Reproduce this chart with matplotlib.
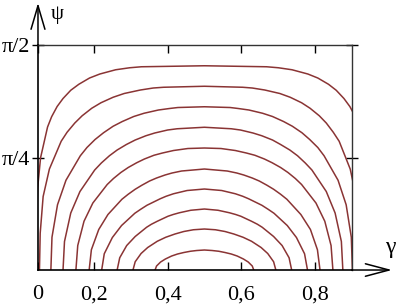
import numpy as np
import matplotlib
matplotlib.use("Agg")
import matplotlib.pyplot as plt

# ==================================================
# DATA  (gamma, psi in degrees)
# ==================================================

g1 = [0.044, 0.044, 0.047, 0.055, 0.074, 0.085, 0.100, 0.116, 0.137, 0.159, 0.188, 0.216, 0.259, 0.297, 0.329,
      0.500,
      0.669, 0.701, 0.738, 0.781, 0.808, 0.837, 0.858, 0.879, 0.895, 0.910, 0.921, 0.940, 0.948, 0.950, 0.951]
p1 = [0.0, 16.3, 32.7, 44.9, 57.2, 61.3, 65.4, 68.6, 71.9, 74.3, 76.8, 78.4, 80.1, 80.9, 81.3,
      81.7,
      81.3, 80.9, 80.1, 78.4, 76.8, 74.3, 71.9, 68.6, 65.4, 61.3, 57.2, 44.9, 32.7, 16.3, 0.0]

g2 = [0.052, 0.054, 0.062, 0.079, 0.111, 0.127, 0.148, 0.168, 0.194, 0.219, 0.252, 0.282, 0.326, 0.361, 0.389,
      0.500,
      0.604, 0.630, 0.664, 0.705, 0.733, 0.764, 0.787, 0.812, 0.831, 0.850, 0.866, 0.896, 0.912, 0.919, 0.921]
p2 = [0.0, 14.7, 29.4, 40.4, 51.5, 55.1, 58.8, 61.7, 64.7, 66.9, 69.1, 70.6, 72.0, 72.8, 73.1,
      73.5,
      73.1, 72.8, 72.0, 70.6, 69.1, 66.9, 64.7, 61.7, 58.8, 55.1, 51.5, 40.4, 29.4, 14.7, 0.0]

g3 = [0.083, 0.086, 0.101, 0.124, 0.163, 0.181, 0.203, 0.226, 0.252, 0.277, 0.308, 0.336, 0.375, 0.405, 0.428,
      0.500,
      0.570, 0.592, 0.621, 0.658, 0.685, 0.715, 0.739, 0.765, 0.786, 0.808, 0.825, 0.863, 0.885, 0.899, 0.902]
p3 = [0.0, 13.1, 26.1, 35.9, 45.7, 49.0, 52.2, 54.9, 57.5, 59.4, 61.4, 62.7, 64.0, 64.6, 65.0,
      65.3,
      65.0, 64.6, 64.0, 62.7, 61.4, 59.4, 57.5, 54.9, 52.2, 49.0, 45.7, 35.9, 26.1, 13.1, 0.0]

g4 = [0.116, 0.120, 0.137, 0.162, 0.202, 0.220, 0.242, 0.263, 0.288, 0.312, 0.341, 0.365, 0.400, 0.426,
      0.500,
      0.573, 0.598, 0.632, 0.656, 0.685, 0.707, 0.732, 0.753, 0.774, 0.792, 0.831, 0.855, 0.872, 0.876]
p4 = [0.0, 11.4, 22.8, 31.4, 40.0, 42.8, 45.7, 48.0, 50.2, 52.0, 53.7, 54.8, 56.0, 56.5,
      57.1,
      56.5, 56.0, 54.8, 53.7, 52.0, 50.2, 48.0, 45.7, 42.8, 40.0, 31.4, 22.8, 11.4, 0.0]

g5 = [0.151, 0.156, 0.173, 0.197, 0.236, 0.253, 0.273, 0.293, 0.316, 0.337, 0.363, 0.386, 0.416, 0.455,
      0.500,
      0.545, 0.584, 0.614, 0.637, 0.663, 0.684, 0.707, 0.727, 0.747, 0.764, 0.803, 0.827, 0.844, 0.849]
p5 = [0.0, 9.8, 19.5, 26.8, 34.2, 36.6, 39.0, 41.0, 42.9, 44.4, 45.9, 46.8, 47.8, 48.6,
      48.8,
      48.6, 47.8, 46.8, 45.9, 44.4, 42.9, 41.0, 39.0, 36.6, 34.2, 26.8, 19.5, 9.8, 0.0]

g6 = [0.187, 0.193, 0.213, 0.238, 0.276, 0.293, 0.312, 0.330, 0.351, 0.370, 0.393, 0.412, 0.438,
      0.500,
      0.562, 0.588, 0.607, 0.630, 0.649, 0.670, 0.688, 0.707, 0.724, 0.762, 0.788, 0.807, 0.814]
p6 = [0.0, 8.1, 16.2, 22.2, 28.3, 30.3, 32.3, 33.9, 35.6, 36.8, 38.0, 38.8, 39.6,
      40.4,
      39.6, 38.8, 38.0, 36.8, 35.6, 33.9, 32.3, 30.3, 28.3, 22.2, 16.2, 8.1, 0.0]

g7 = [0.221, 0.228, 0.250, 0.275, 0.311, 0.327, 0.344, 0.380, 0.396, 0.416, 0.453,
      0.500,
      0.547, 0.584, 0.604, 0.620, 0.656, 0.673, 0.689, 0.725, 0.750, 0.772, 0.780]
p7 = [0.0, 6.5, 13.0, 17.8, 22.7, 24.3, 25.9, 28.5, 29.5, 30.5, 31.8,
      32.4,
      31.8, 30.5, 29.5, 28.5, 25.9, 24.3, 22.7, 17.8, 13.0, 6.5, 0.0]

g8 = [0.263, 0.270, 0.289, 0.312, 0.343, 0.356, 0.372, 0.401, 0.415, 0.432, 0.463,
      0.500,
      0.537, 0.568, 0.585, 0.599, 0.628, 0.644, 0.657, 0.688, 0.711, 0.730, 0.737]
p8 = [0.0, 4.9, 9.8, 13.4, 17.1, 18.3, 19.5, 21.5, 22.2, 22.9, 23.9,
      24.4,
      23.9, 22.9, 22.2, 21.5, 19.5, 18.3, 17.1, 13.4, 9.8, 4.9, 0.0]

g9 = [0.306, 0.312, 0.328, 0.346, 0.372, 0.395, 0.420, 0.444, 0.470, 0.500,
      0.530, 0.556, 0.580, 0.605, 0.628, 0.654, 0.672, 0.688, 0.694]
p9 = [0.0, 3.3, 6.6, 9.0, 11.5, 13.1, 14.4, 15.4, 16.1, 16.4,
      16.1, 15.4, 14.4, 13.1, 11.5, 9.0, 6.6, 3.3, 0.0]

g10 = [0.366, 0.370, 0.381, 0.394, 0.411, 0.427, 0.444, 0.462, 0.479, 0.500,
       0.521, 0.539, 0.556, 0.573, 0.589, 0.606, 0.619, 0.630, 0.634]
p10 = [0.0, 1.6, 3.2, 4.4, 5.6, 6.4, 7.0, 7.5, 7.8, 8.0,
       7.8, 7.5, 7.0, 6.4, 5.6, 4.4, 3.2, 1.6, 0.0]

curves = [(g1, p1), (g2, p2), (g3, p3), (g4, p4), (g5, p5),
          (g6, p6), (g7, p7), (g8, p8), (g9, p9), (g10, p10)]

x_ticks = [0.048, 0.2, 0.4, 0.6, 0.8]
x_labels = ["0", "0,2", "0,4", "0,6", "0,8"]
y_ticks = [np.pi / 4, np.pi / 2]
y_labels = ["π/4", "π/2"]

# ==================================================
# PLOT
# ==================================================

plt.rcParams['font.family'] = 'serif'
plt.rcParams['font.serif'] = ['Liberation Serif', 'DejaVu Serif']

fig = plt.figure(figsize=(3.99, 3.06), dpi=100)
ax = fig.add_axes([0.0952, 0.1176, 0.7862, 0.7353])

for g, p in curves:
    ax.plot(g, np.radians(p), color='#8a3434', lw=1.1)

ax.set_xlim(0.048, 0.9)
ax.set_ylim(0, np.pi / 2)

ax.set_xticks(x_ticks)
ax.set_xticklabels(x_labels, fontsize=16)
ax.set_yticks(y_ticks)
ax.set_yticklabels(y_labels, fontsize=16)

ax.tick_params(axis='x', direction='in', length=6, width=1, top=True, pad=11)
ax.tick_params(axis='y', direction='inout', length=9, width=1, right=True, pad=1)

for s in ['left', 'bottom']:
    ax.spines[s].set_linewidth(1.2)
    ax.spines[s].set_color('black')
for s in ['top', 'right']:
    ax.spines[s].set_linewidth(1.0)
    ax.spines[s].set_color('#333333')

# axis arrows
ax.annotate('', xy=(1.1285, 0), xytext=(1.0, 0), xycoords='axes fraction',
            arrowprops=dict(arrowstyle='->,head_length=1.7,head_width=0.45',
                            lw=1.1, color='black', mutation_scale=10, shrinkA=0, shrinkB=0))
ax.annotate('', xy=(0, 1.187), xytext=(0, 1.0), xycoords='axes fraction',
            arrowprops=dict(arrowstyle='->,head_length=1.7,head_width=0.5',
                            lw=1.1, color='black', mutation_scale=10, shrinkA=0, shrinkB=0))

ax.text(1.122, 0.098, "γ", transform=ax.transAxes, fontsize=17, ha='center', va='center')
ax.text(0.062, 1.135, "ψ", transform=ax.transAxes, fontsize=15, ha='center', va='center')

fig.savefig("out.png", dpi=100)
